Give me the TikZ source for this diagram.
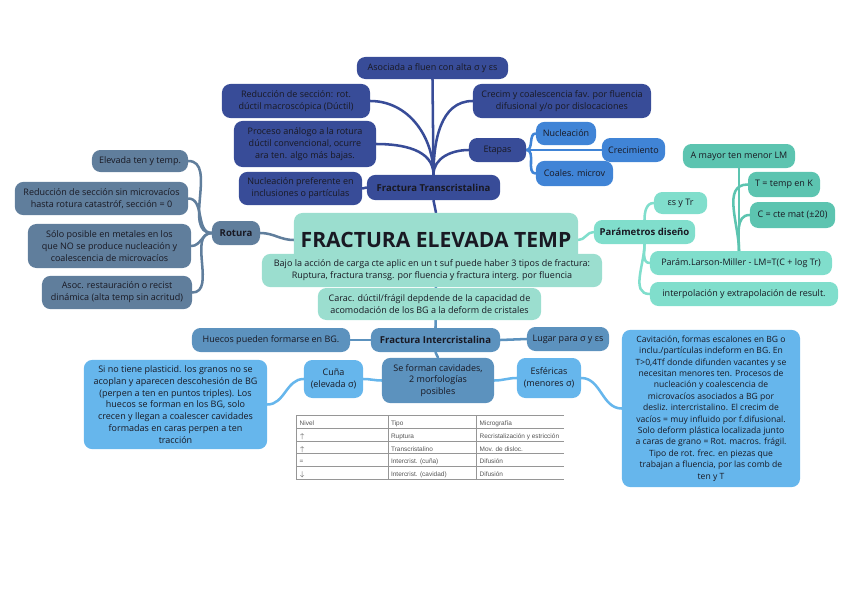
\documentclass[tikz,border=0pt]{standalone}
\usepackage{fontspec}
\setmainfont{Open Sans}
\newfontfamily\tablefont{Liberation Sans}
\usepackage{array}
\usepackage{tikz}
\usetikzlibrary{backgrounds}
\definecolor{mytext}{RGB}{25,25,35}
\definecolor{mynavy}{RGB}{56,76,152}
\definecolor{myblue}{RGB}{64,132,214}
\definecolor{myslate}{RGB}{96,126,156}
\definecolor{myroot}{RGB}{155,222,207}
\definecolor{myteal}{RGB}{128,222,204}
\definecolor{mydeepteal}{RGB}{92,196,176}
\definecolor{mysteel}{RGB}{92,146,190}
\definecolor{mysky}{RGB}{102,182,236}
\definecolor{mygrid}{RGB}{150,150,150}
\definecolor{mygray}{RGB}{85,85,85}
\tikzset{
  mapbox/.style={rectangle, rounded corners=6pt, align=center, inner sep=2pt,
    text=mytext, font=\fontsize{6.4}{8.4}\selectfont},
  navybox/.style={mapbox, fill=mynavy},
  bluebox/.style={mapbox, fill=myblue},
  slatebox/.style={mapbox, fill=myslate},
  rootbox/.style={mapbox, fill=myroot},
  tealbox/.style={mapbox, fill=myteal},
  deeptealbox/.style={mapbox, fill=mydeepteal},
  steelbox/.style={mapbox, fill=mysteel},
  skybox/.style={mapbox, fill=mysky},
  keynode/.style={font=\fontsize{6.8}{8.4}\selectfont\bfseries},
  conn/.style={line width=1.8pt, line cap=round}
}

\begin{document}
\begin{tikzpicture}[x=0.025cm, y=-0.025cm]
  \useasboundingbox (0,0) rectangle (848,599);

  % Root
  \node[rootbox, minimum width=7.1cm, minimum height=1.35cm,
    font=\fontsize{15}{17}\selectfont\bfseries] (root) at (436,240) {FRACTURA ELEVADA TEMP};
  \node[rootbox, minimum width=8.5cm, minimum height=0.83cm] (bajo) at (432,270.5)
    {Bajo la acción de carga cte aplic en un t suf puede haber 3 tipos de fractura:\\Ruptura, fractura transg. por fluencia y fractura interg. por fluencia};
  \node[rootbox, minimum width=5.58cm, minimum height=0.8cm] (carac) at (429.5,304)
    {Carac. dúctil/frágil depdende de la capacidad de\\acomodación de los BG a la deform de cristales};

  % Fractura Transcristalina
  \node[navybox, keynode, minimum width=3.33cm, minimum height=0.63cm] (transc) at (433.5,187.5) {Fractura Transcristalina};
  \node[navybox, minimum width=3.78cm, minimum height=0.55cm] (asoc) at (432.5,68) {Asociada a fluen con alta σ y εs};
  \node[navybox, minimum width=3.7cm, minimum height=0.85cm] (redsec) at (296,101) {Reducción de sección: rot.\\dúctil macroscópica (Dúctil)};
  \node[navybox, minimum width=4.45cm, minimum height=0.85cm] (crecim) at (562,101) {Crecim y coalescencia fav. por fluencia\\difusional y/o por dislocaciones};
  \node[navybox, minimum width=3.55cm, minimum height=1.15cm] (proceso) at (305,144) {Proceso análogo a la rotura\\dúctil convencional, ocurre\\ara ten. algo más bajas.};
  \node[navybox, minimum width=3.08cm, minimum height=0.83cm] (nucpref) at (300.5,188.5) {Nucleación preferente en\\inclusiones o partículas};
  \node[navybox, minimum width=1.43cm, minimum height=0.6cm] (etapas) at (497.5,150) {Etapas};
  \node[bluebox, minimum width=1.5cm, minimum height=0.58cm] (nucl) at (566,133.5) {Nucleación};
  \node[bluebox, minimum width=1.58cm, minimum height=0.6cm] (crec) at (633.5,150) {Crecimiento};
  \node[bluebox, minimum width=1.93cm, minimum height=0.63cm] (coales) at (574.5,173.5) {Coales. microv};

  % Rotura
  \node[slatebox, keynode, minimum width=1.2cm, minimum height=0.6cm] (rotura) at (236,233) {Rotura};
  \node[slatebox, minimum width=2.4cm, minimum height=0.55cm] (elev) at (140,161) {Elevada ten y temp.};
  \node[slatebox, minimum width=4.33cm, minimum height=0.83cm] (redsin) at (101.5,198.5) {Reducción de sección sin microvacíos\\hasta rotura catastróf, sección = 0};
  \node[slatebox, minimum width=4.08cm, minimum height=1.1cm] (solo) at (109.5,246) {Sólo posible en metales en los\\que NO se produce nucleación y\\coalescencia de microvacíos};
  \node[slatebox, minimum width=3.75cm, minimum height=0.83cm] (asocrest) at (117,292.5) {Asoc. restauración o recist\\dinámica (alta temp sin acritud)};

  % Parametros
  \node[tealbox, keynode, minimum width=2.53cm, minimum height=0.6cm] (param) at (644.5,232) {Parámetros diseño};
  \node[tealbox, minimum width=1.33cm, minimum height=0.55cm] (esytr) at (680.5,203) {εs y Tr};
  \node[tealbox, minimum width=4.55cm, minimum height=0.6cm] (larson) at (741,263) {Parám.Larson-Miller - LM=T(C + log Tr)};
  \node[tealbox, minimum width=4.7cm, minimum height=0.6cm] (interp) at (744,294) {interpolación y extrapolación de result.};
  \node[deeptealbox, minimum width=2.8cm, minimum height=0.6cm] (amayor) at (739,156) {A mayor ten menor LM};
  \node[deeptealbox, minimum width=1.8cm, minimum height=0.63cm] (ttemp) at (784,184.5) {T = temp en K};
  \node[deeptealbox, minimum width=2.13cm, minimum height=0.65cm] (ccte) at (792.5,215) {C = cte mat (±20)};

  % Fractura Intercristalina
  \node[steelbox, keynode, minimum width=3.23cm, minimum height=0.6cm] (inter) at (435.5,340) {Fractura Intercristalina};
  \node[steelbox, minimum width=3.95cm, minimum height=0.6cm] (huecos) at (271,340) {Huecos pueden formarse en BG.};
  \node[steelbox, minimum width=2.05cm, minimum height=0.6cm] (lugar) at (568,339) {Lugar para σ y εs};
  \node[steelbox, minimum width=2.8cm, minimum height=1.13cm] (seform) at (438,380.5) {Se forman cavidades,\\2 morfologías\\posibles};
  \node[skybox, minimum width=1.48cm, minimum height=0.95cm] (cuna) at (333.5,379) {Cuña\\(elevada σ)};
  \node[skybox, minimum width=1.6cm, minimum height=1.0cm] (esfer) at (549,378) {Esféricas\\(menores σ)};
  \node[skybox, minimum width=4.58cm, minimum height=2.23cm] (sino) at (175.5,404.5)
    {Si no tiene plasticid. los granos no se\\acoplan y aparecen descohesión de BG\\(perpen a ten en puntos triples). Los\\huecos se forman en los BG, solo\\crecen y llegan a coalescer cavidades\\formadas en caras perpen a ten\\tracción};
  \node[skybox, minimum width=4.45cm, minimum height=3.93cm, font=\fontsize{6.1}{8.1}\selectfont] (cavit) at (711,408.5)
    {Cavitación, formas escalones en BG o\\inclu./partículas indeform en BG. En\\T>0,4Tf donde difunden vacantes y se\\necesitan menores ten. Procesos de\\nucleación y coalescencia de\\microvacíos asociados a BG por\\desliz. intercristalino. El crecim de\\vacíos = muy influido por f.difusional.\\Solo deform plástica localizada junto\\a caras de grano = Rot. macros. frágil.\\Tipo de rot. frec. en piezas que\\trabajan a fluencia, por las comb de\\ten y T};

  % Tabla
  \node[inner sep=0pt, anchor=north west] (tabla) at (296,415) {%
    \tablefont\fontsize{4.6}{5.5}\selectfont\color{mygrid}%
    \renewcommand{\arraystretch}{0.92}\setlength{\tabcolsep}{2pt}%
    \begin{tabular}{|>{\color{mygray}}p{2.13cm}|>{\color{mygray}}p{2.06cm}|>{\color{mygray}}p{2.03cm}}
      \hline
      Nivel & Tipo & Micrografía\\ \hline
      $\uparrow$ & Ruptura & Recristalización y estricción\\ \hline
      $\uparrow$ & Transcristalino & Mov. de disloc.\\ \hline
      = & Intercrist. (cuña) & Difusión\\ \hline
      $\downarrow$ & Intercrist. (cavidad) & Difusión\\ \hline
    \end{tabular}};

  % Paths
  \begin{scope}[on background layer]
    \draw[conn, mynavy] (root.north) -- (transc.south);
    \draw[conn, mynavy] (transc.north) -- (asoc.south);
    \draw[conn, mynavy] (transc.north) to[out=90, in=0] (redsec.east);
    \draw[conn, mynavy] (transc.north) to[out=90, in=180] (crecim.west);
    \draw[conn, mynavy] (transc.north) to[out=90, in=0] (proceso.east);
    \draw[conn, mynavy] (transc.north) to[out=90, in=180] (etapas.west);
    \draw[conn, mynavy] (transc.west) -- (nucpref.east);
    \draw[conn, myblue] (etapas.east) to[out=0, in=180] (nucl.west);
    \draw[conn, myblue] (etapas.east) -- (crec.west);
    \draw[conn, myblue] (etapas.east) to[out=0, in=180] (coales.west);

    \draw[conn, myslate] (rotura.east) to[out=0, in=180] (root.west);
    \draw[conn, myslate] (rotura.west) to[out=180, in=0] (elev.east);
    \draw[conn, myslate] (rotura.west) to[out=180, in=0] (redsin.east);
    \draw[conn, myslate] (rotura.west) to[out=180, in=0] (solo.east);
    \draw[conn, myslate] (rotura.west) to[out=180, in=0] (asocrest.east);

    \draw[conn, myteal] (root.east) to[out=0, in=180] (param.west);
    \draw[conn, myteal] (param.north) to[out=90, in=180] (esytr.west);
    \draw[conn, myteal] (param.south) to[out=-90, in=180] (larson.west);
    \draw[conn, myteal] (param.south) to[out=-90, in=180] (interp.west);
    \draw[conn, mydeepteal] (amayor.south) -- (amayor.south |- larson.north);
    \draw[conn, mydeepteal] (amayor.south |- larson.north) to[out=90, in=180] (ttemp.west);
    \draw[conn, mydeepteal] (amayor.south |- larson.north) to[out=90, in=180] (ccte.west);

    \draw[conn, mysteel] (root.south) -- (inter.north);
    \draw[conn, mysteel] (inter.west) -- (huecos.east);
    \draw[conn, mysteel] (inter.east) -- (lugar.west);
    \draw[conn, mysteel] (inter.south) -- (seform.north);
    \draw[conn, mysky] (seform.west) to[out=180, in=0] (cuna.east);
    \draw[conn, mysky] (cuna.west) to[out=180, in=0] (sino.east);
    \draw[conn, mysky] (seform.east) to[out=0, in=180] (esfer.west);
    \draw[conn, mysky] (esfer.east) to[out=0, in=180] (cavit.west);
  \end{scope}
\end{tikzpicture}
\end{document}
